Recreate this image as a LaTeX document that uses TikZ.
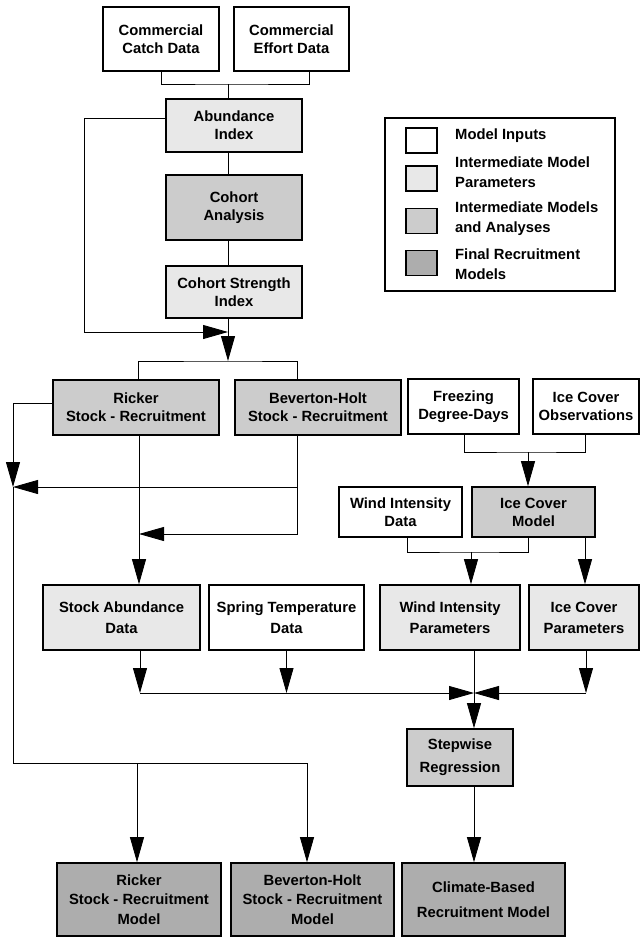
\documentclass[tikz,border=0pt]{standalone}
\usepackage{fontspec}
\setmainfont{Liberation Sans}
\usetikzlibrary{arrows.meta,calc}
\begin{document}
\begin{tikzpicture}[x=1pt,y=-1pt]
\tikzset{
 box/.style={draw, line width=1.6pt, inner sep=0pt, align=center, font=\fontsize{14.8}{18}\selectfont\bfseries},
 inbox/.style={box, fill=white},
 parbox/.style={box, fill=black!9},
 modbox/.style={box, fill=black!20},
 finbox/.style={box, fill=black!32},
 sz/.style 2 args={minimum width=#1pt, minimum height=#2pt},
 con/.style={line width=0.8pt},
 arr/.style={con, -{Triangle[length=25pt,width=14pt]}},
 lgtext/.style={anchor=west, align=left, inner sep=0pt, font=\fontsize{14.8}{19.5}\selectfont\bfseries},
}
\useasboundingbox (0,0) rectangle (641,937);
% boxes
\node[inbox, sz={116}{64}] (catch) at (161,39) {Commercial\\Catch Data};
\node[inbox, sz={115}{64}] (effort) at (291.5,39) {Commercial\\Effort Data};
\node[parbox, sz={136}{53}] (abund) at (234,125.5) {Abundance\\Index};
\node[modbox, sz={136}{65}] (cohort) at (234,207.5) {Cohort\\Analysis};
\node[parbox, sz={136}{52}] (cstr) at (234,292) {Cohort Strength\\Index};
\node[modbox, sz={166}{55}] (ricker) at (136,407.5) {Ricker\\Stock - Recruitment};
\node[modbox, sz={166}{55}] (bev) at (318,407.5) {Beverton-Holt\\Stock - Recruitment};
\node[inbox, sz={111}{55}] (freeze) at (463.5,406.5) {Freezing\\Degree-Days};
\node[inbox, sz={106}{55}] (iceobs) at (586,406.5) {Ice Cover\\Observations};
\node[inbox, sz={123}{50}] (wind) at (400.5,512) {Wind Intensity\\Data};
\node[modbox, sz={123}{50}] (icemod) at (533.5,512) {Ice Cover\\Model};
\node[parbox, sz={157}{65}] (stock) at (121.5,617.5) {Stock Abundance\\[3pt]Data};
\node[inbox, sz={155}{65}] (spring) at (286.5,617.5) {Spring Temperature\\[3pt]Data};
\node[parbox, sz={140}{65}] (windp) at (450,617.5) {Wind Intensity\\[3pt]Parameters};
\node[parbox, sz={110}{65}] (icep) at (584,617.5) {Ice Cover\\[3pt]Parameters};
\node[modbox, sz={106}{57}] (step) at (460,757.5) {Stepwise\\[5pt]Regression};
\node[finbox, sz={164}{73}] (rickM) at (139,899.5) {Ricker\\[1pt]Stock - Recruitment\\[2pt]Model};
\node[finbox, sz={163}{73}] (bevM) at (312.5,899.5) {Beverton-Holt\\[1pt]Stock - Recruitment\\[2pt]Model};
\node[finbox, sz={163}{73}] (clim) at (483.5,899.5) {Climate-Based\\[7pt]Recruitment Model};
% legend
\node[draw, line width=1.2pt, minimum width=230pt, minimum height=173pt, inner sep=0pt] (legend) at (500,204.5) {};
\node[inbox, sz={31}{25}, line width=1.2pt] (lg1) at (421.5,140.5) {};
\node[parbox, sz={31}{25}, line width=1.2pt] (lg2) at (421.5,178.5) {};
\node[modbox, sz={31}{25}, line width=1.2pt] (lg3) at (421.5,221) {};
\node[finbox, sz={31}{25}, line width=1.2pt] (lg4) at (421.5,263) {};
\node[lgtext] (lt1) at (455,135.3) {Model Inputs};
\node[lgtext] (lt2) at (455,172.3) {Intermediate Model\\Parameters};
\node[lgtext] (lt3) at (455,218.8) {Intermediate Models\\and Analyses};
\node[lgtext] (lt4) at (455,264.3) {Final Recruitment\\Models};
% connectors top
\coordinate (j1) at (228,84);
\draw[con] (catch.south) |- (j1) -| ([xshift=17.5pt]effort.south);
\draw[con] (j1) -- (j1 |- abund.north);
\draw[con] ([xshift=-6pt]abund.south) -- ([xshift=-6pt]cohort.north);
\draw[con] ([xshift=-6pt]cohort.south) -- ([xshift=-6pt]cstr.north);
\coordinate (j2) at (228,332);
\coordinate (j3) at (228,361);
\draw[arr] ([yshift=7.5pt]abund.west) -| (84,332) -- (j2);
\draw[con] ([xshift=-6pt]cstr.south) -- (j2);
\draw[arr] (j2) -- (j3);
\draw[con] ([xshift=2pt]ricker.north) |- (j3) -| ([xshift=-21pt]bev.north);
% left side
\coordinate (jL) at (13,487);
\coordinate (jb1) at (297,487);
\coordinate (rj) at (139,534);
\draw[arr] ([yshift=4.5pt]ricker.west) -| (jL);
\draw[arr] ([xshift=-21pt]bev.south) |- (rj);
\draw[arr] (jb1) -- (jL);
\coordinate (rs) at ([xshift=3pt]ricker.south);
\draw[arr] (rs) -- (rs |- stock.north);
\coordinate (jB) at (13,763);
\coordinate (jR) at (307,763);
\coordinate (b1) at (137,763);
\draw[con] (jL) -- (jB) -- (jR);
\draw[arr] (b1) -- (b1 |- rickM.north);
\draw[arr] (jR) -- (jR |- bevM.north);
% right side
\coordinate (f1) at (528,452);
\draw[con] ([xshift=0.5pt]freeze.south) |- (f1) -| ([xshift=-1pt]iceobs.south);
\draw[arr] (f1) -- (f1 |- icemod.north);
\coordinate (w1) at (471,552);
\draw[con] ([xshift=6.5pt]wind.south) |- (w1) -| ([xshift=-5.5pt]icemod.south);
\draw[arr] (w1) -- (w1 |- windp.north);
\coordinate (ic1) at ([xshift=51.5pt]icemod.south);
\draw[arr] (ic1) -- (ic1 |- icep.north);
% lower
\coordinate (m) at (474,693);
\coordinate (s1) at ([xshift=18.5pt]stock.south);
\coordinate (s2) at (spring.south);
\coordinate (s3) at ([xshift=2pt]icep.south);
\coordinate (s4) at ([xshift=24pt]windp.south);
\coordinate (s5) at ([xshift=14pt]step.south);
\draw[arr] (s1) -- (s1 |- m);
\draw[arr] (s2) -- (s2 |- m);
\draw[arr] (s1 |- m) -- (m);
\draw[arr] (s3) -- (s3 |- m);
\draw[arr] (s3 |- m) -- (m);
\draw[arr] (s4) -- (s4 |- step.north);
\draw[arr] (s5) -- (s5 |- clim.north);
\end{tikzpicture}
\end{document}
